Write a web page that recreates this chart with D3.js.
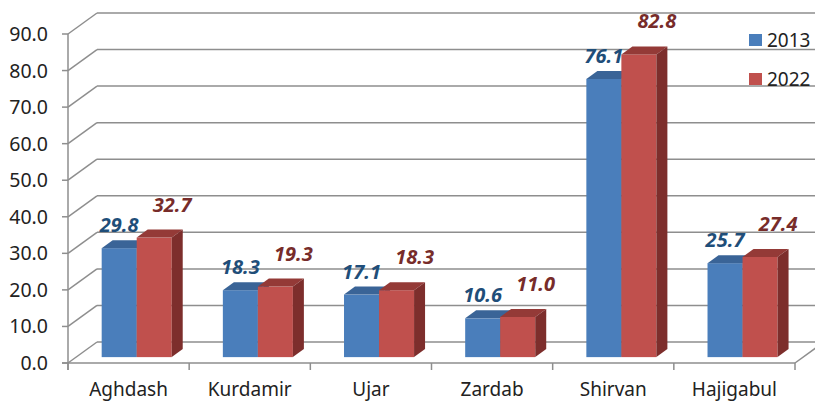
<!DOCTYPE html>
<html>
<head>
<meta charset="utf-8">
<script src="https://cdn.jsdelivr.net/npm/d3@7"></script>
<style>
  html, body { margin: 0; padding: 0; background: #fff; }
  svg { display: block; }
</style>
</head>
<body>
<div id="chart"></div>
<script>
// Dados
const categories = ['Aghdash', 'Kurdamir', 'Ujar', 'Zardab', 'Shirvan', 'Hajigabul'];
const series = ['2013', '2022'];
const values2013 = [29.8, 18.3, 17.1, 10.6, 76.1, 25.7];
const values2022 = [32.7, 19.3, 18.3, 11.0, 82.8, 27.4];
const yTicks = [0, 10, 20, 30, 40, 50, 60, 70, 80, 90];

// Configuração
const W = 815, H = 401;
const FONT = '"Noto Sans", "Open Sans", sans-serif';
const WALL = { dx: 29, dy: -21 };      // profundidade da parede
const BAR_PLANE = 0.28;                 // posição das barras na profundidade
const BAR_DEPTH = { dx: 11, dy: -8 };   // profundidade de cada barra
const COLORS = {
    '2013': { front: '#4A7EBB', top: '#3A6497', side: '#2F5482', label: '#1F4E79' },
    '2022': { front: '#C0504D', top: '#943A37', side: '#7D2E2C', label: '#772C2A' }
};
const grid = '#8e8e8e';

const svg = d3.select('#chart').append('svg')
    .attr('width', W).attr('height', H);

// Escalas
const x = d3.scaleBand().domain(categories).range([68, 795]);
const xs = d3.scaleBand().domain(series).range([0, x.bandwidth()])
    .paddingInner(0).paddingOuter(0.73);
const y = d3.scaleLinear().domain([0, 90]).range([363, 34]);

const data = categories.map((c, i) => ({
    cat: c,
    vals: [{ s: '2013', v: values2013[i] }, { s: '2022', v: values2022[i] }]
}));

// Parede do fundo e diagonais
const g = svg.append('g');
yTicks.forEach(t => {
    const yy = y(t);
    g.append('line')
        .attr('x1', x.range()[0]).attr('y1', yy)
        .attr('x2', x.range()[0] + WALL.dx).attr('y2', yy + WALL.dy)
        .attr('stroke', grid).attr('stroke-width', 1.5);
    g.append('line')
        .attr('x1', x.range()[0] + WALL.dx).attr('y1', yy + WALL.dy)
        .attr('x2', W + 10).attr('y2', yy + WALL.dy)
        .attr('stroke', grid).attr('stroke-width', 1.5);
});
// Diagonal do chão à direita
g.append('line')
    .attr('x1', x.range()[1]).attr('y1', y(0))
    .attr('x2', x.range()[1] + WALL.dx).attr('y2', y(0) + WALL.dy)
    .attr('stroke', grid).attr('stroke-width', 1.5);

// Eixo Y
const yAxis = svg.append('g');
yAxis.append('line')
    .attr('x1', 68).attr('x2', 68).attr('y1', y(90)).attr('y2', y(0) + 7)
    .attr('stroke', grid).attr('stroke-width', 1.5);
yTicks.forEach(t => {
    yAxis.append('line')
        .attr('x1', 62).attr('x2', 68).attr('y1', y(t)).attr('y2', y(t))
        .attr('stroke', grid).attr('stroke-width', 1.5);
    yAxis.append('text')
        .attr('x', 48).attr('y', y(t) + 7)
        .attr('text-anchor', 'end')
        .style('font-family', FONT).style('font-size', '19.5px').style('fill', '#222')
        .text(t.toFixed(1));
});

// Eixo X
const xAxis = svg.append('g');
xAxis.append('line')
    .attr('x1', 62).attr('x2', x.range()[1]).attr('y1', y(0)).attr('y2', y(0))
    .attr('stroke', grid).attr('stroke-width', 1.5);
categories.concat([null]).forEach((c, i) => {
    const xx = c ? x(c) : x.range()[1];
    xAxis.append('line')
        .attr('x1', xx).attr('x2', xx).attr('y1', y(0)).attr('y2', y(0) + 7)
        .attr('stroke', grid).attr('stroke-width', 1.5);
});
categories.forEach(c => {
    xAxis.append('text')
        .attr('x', x(c) + x.bandwidth() / 2).attr('y', 396)
        .attr('text-anchor', 'middle')
        .style('font-family', FONT).style('font-size', '19px').style('fill', '#222')
        .text(c);
});

// Barras 3D
const offX = WALL.dx * BAR_PLANE, offY = WALL.dy * BAR_PLANE;
const base = y(0) + offY;
const bars = svg.append('g');
data.forEach(d => {
    d.vals.forEach(b => {
        const x0 = x(d.cat) + xs(b.s) + offX;
        const x1 = x0 + xs.bandwidth();
        const top = y(b.v) + offY;
        const c = COLORS[b.s];
        const bg = bars.append('g');
        bg.append('rect')
            .attr('x', x0).attr('y', top)
            .attr('width', x1 - x0).attr('height', base - top)
            .attr('fill', c.front);
        bg.append('path')
            .attr('d', `M${x0},${top}L${x0 + BAR_DEPTH.dx},${top + BAR_DEPTH.dy}L${x1 + BAR_DEPTH.dx},${top + BAR_DEPTH.dy}L${x1},${top}Z`)
            .attr('fill', c.top);
        bg.append('path')
            .attr('d', `M${x1},${top}L${x1 + BAR_DEPTH.dx},${top + BAR_DEPTH.dy}L${x1 + BAR_DEPTH.dx},${base + BAR_DEPTH.dy}L${x1},${base}Z`)
            .attr('fill', c.side);
    });
});

// Rótulos de valores
const labels = svg.append('g');
data.forEach(d => {
    d.vals.forEach(b => {
        const cx = x(d.cat) + xs(b.s) + offX + xs.bandwidth() / 2;
        const top = y(b.v) + offY;
        const isRed = b.s === '2022';
        labels.append('text')
            .attr('x', cx + (isRed ? 18 : 0))
            .attr('y', top - (isRed ? 26 : 16))
            .attr('text-anchor', 'middle')
            .style('font-family', FONT).style('font-size', '20px')
            .style('font-weight', 'bold').style('font-style', 'italic')
            .style('fill', COLORS[b.s].label)
            .text(b.v.toFixed(1));
    });
});

// Legenda
const legend = svg.append('g');
series.forEach((s, i) => {
    const ly = 34 + i * 39;
    legend.append('rect')
        .attr('x', 749).attr('y', ly).attr('width', 13).attr('height', 12)
        .attr('fill', COLORS[s].front);
    legend.append('text')
        .attr('x', 767).attr('y', ly + 13)
        .style('font-family', FONT).style('font-size', '19px').style('fill', '#222')
        .text(s);
});
</script>
</body>
</html>
